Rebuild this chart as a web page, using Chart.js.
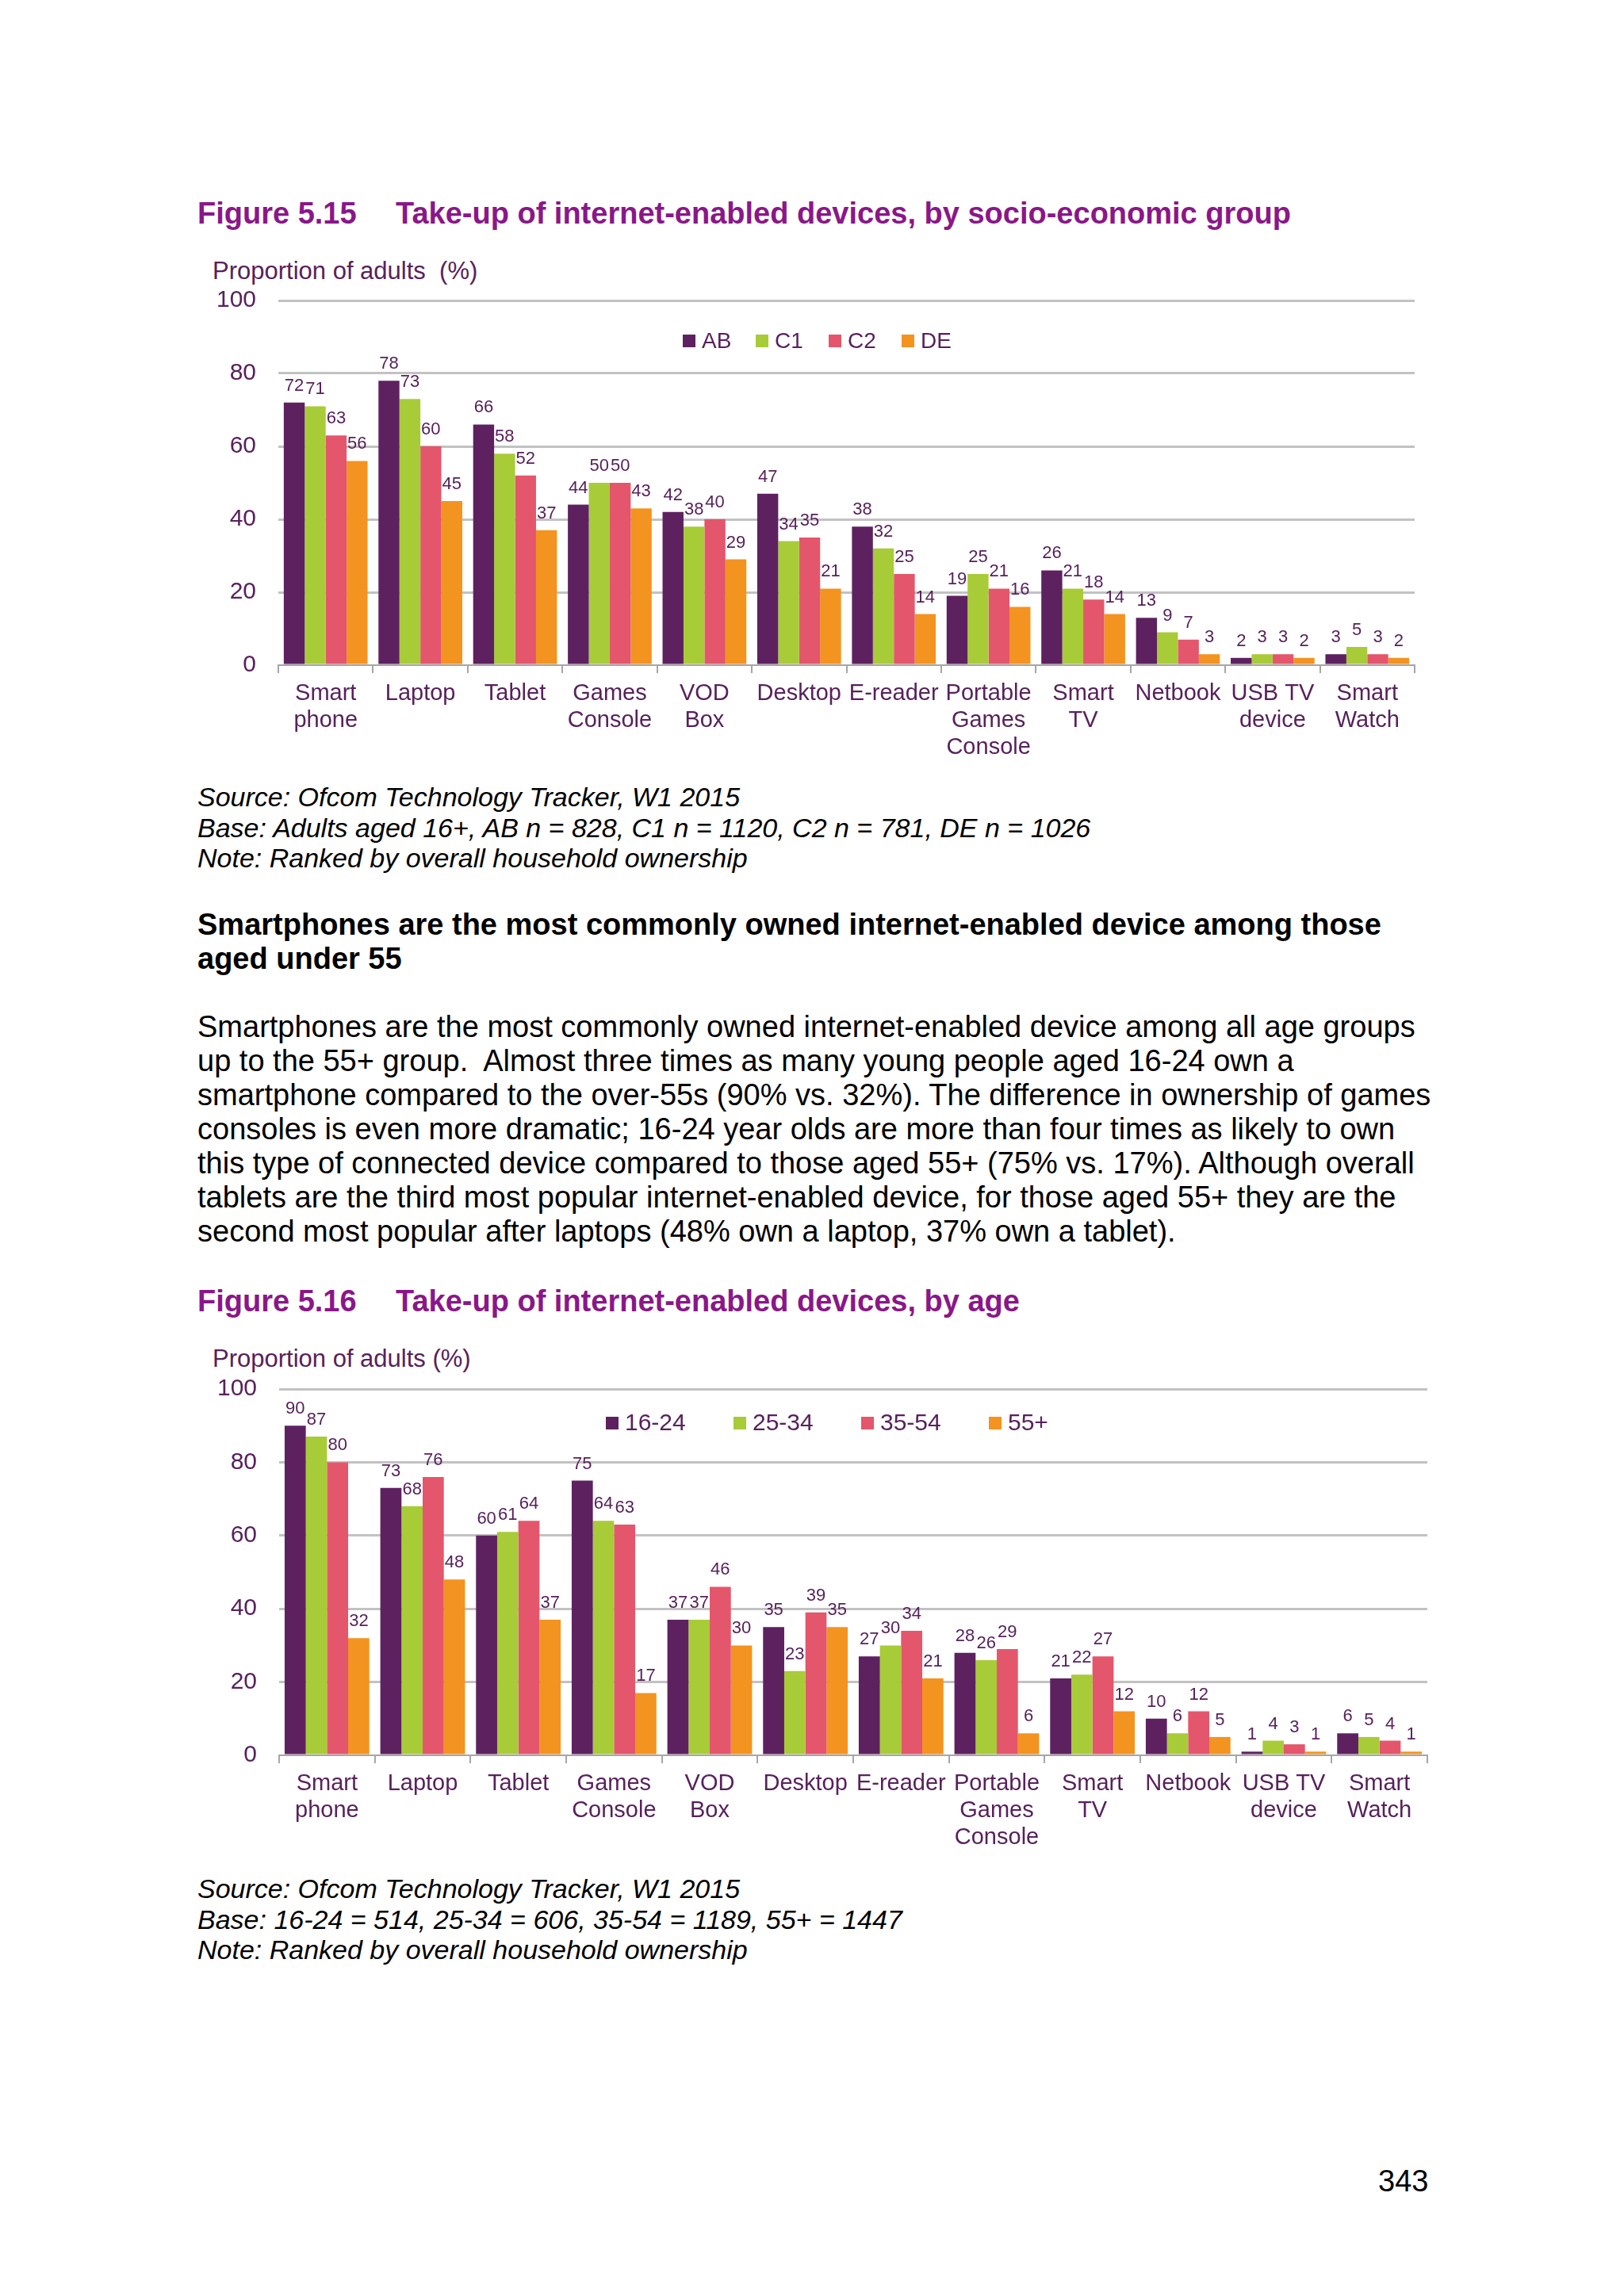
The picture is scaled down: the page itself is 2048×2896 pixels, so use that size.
<!DOCTYPE html>
<html>
<head>
<meta charset="utf-8">
<script src="https://cdn.jsdelivr.net/npm/chart.js@4.4.1/dist/chart.umd.min.js"></script>
<style>
  html, body { margin: 0; padding: 0; background: #fff; }
  body { width: 2048px; height: 2896px; position: relative; font-family: "Liberation Sans", Arial, sans-serif; color: #000; }
  .bloco { position: absolute; left: 249px; white-space: pre; }
  .titulo { font-weight: bold; font-size: 38px; line-height: 43px; color: #8a1789; }
  .titulo span { position: absolute; left: 250px; }
  .eixo { font-size: 31px; line-height: 36px; color: #58215c; left: 268px; }
  .fonte { font-style: italic; font-size: 34px; line-height: 38.5px; }
  .texto { font-size: 38px; line-height: 43px; }
  .negrito { font-weight: bold; }
  .grafico { position: absolute; left: 240px; }
  .pagina { position: absolute; left: 1738px; top: 2730px; font-size: 38px; line-height: 43px; }
</style>
</head>
<body>

<div class="bloco titulo" style="top:248px">Figure 5.15<span>Take-up of internet-enabled devices, by socio-economic group</span></div>
<div class="bloco eixo" style="top:324px">Proportion of adults  (%)</div>
<div class="grafico" style="top:349px"><canvas id="graficoSocio" width="1554" height="618"></canvas></div>

<div class="bloco fonte" style="top:986px">Source: Ofcom Technology Tracker, W1 2015
Base: Adults aged 16+, AB n = 828, C1 n = 1120, C2 n = 781, DE n = 1026
Note: Ranked by overall household ownership</div>

<div class="bloco texto negrito" style="top:1145px">Smartphones are the most commonly owned internet-enabled device among those
aged under 55</div>

<div class="bloco texto" style="top:1274px">Smartphones are the most commonly owned internet-enabled device among all age groups
up to the 55+ group.  Almost three times as many young people aged 16-24 own a
smartphone compared to the over-55s (90% vs. 32%). The difference in ownership of games
consoles is even more dramatic; 16-24 year olds are more than four times as likely to own
this type of connected device compared to those aged 55+ (75% vs. 17%). Although overall
tablets are the third most popular internet-enabled device, for those aged 55+ they are the
second most popular after laptops (48% own a laptop, 37% own a tablet).</div>

<div class="bloco titulo" style="top:1620px">Figure 5.16<span>Take-up of internet-enabled devices, by age</span></div>
<div class="bloco eixo" style="top:1696px">Proportion of adults (%)</div>
<div class="grafico" style="top:1722px"><canvas id="graficoIdade" width="1570" height="620"></canvas></div>

<div class="bloco fonte" style="top:2363px">Source: Ofcom Technology Tracker, W1 2015
Base: 16-24 = 514, 25-34 = 606, 35-54 = 1189, 55+ = 1447
Note: Ranked by overall household ownership</div>

<div class="pagina">343</div>

<script>
// -- Dados --
const categorias = [
  ['Smart', 'phone'], 'Laptop', 'Tablet', ['Games', 'Console'], ['VOD', 'Box'], 'Desktop',
  'E-reader', ['Portable', 'Games', 'Console'], ['Smart', 'TV'], 'Netbook', ['USB TV', 'device'], ['Smart', 'Watch']
];
const ticksY = [0, 20, 40, 60, 80, 100];

const gruposSocio = ['AB', 'C1', 'C2', 'DE'];
const valoresAB = [72, 78, 66, 44, 42, 47, 38, 19, 26, 13, 2, 3];
const valoresC1 = [71, 73, 58, 50, 38, 34, 32, 25, 21, 9, 3, 5];
const valoresC2 = [63, 60, 52, 50, 40, 35, 25, 21, 18, 7, 3, 3];
const valoresDE = [56, 45, 37, 43, 29, 21, 14, 16, 14, 3, 2, 2];

const faixasIdade = ['16-24', '25-34', '35-54', '55+'];
const valores1624 = [90, 73, 60, 75, 37, 35, 27, 28, 21, 10, 1, 6];
const valores2534 = [87, 68, 61, 64, 37, 23, 30, 26, 22, 6, 4, 5];
const valores3554 = [80, 76, 64, 63, 46, 39, 34, 29, 27, 12, 3, 4];
const valores55 = [32, 48, 37, 17, 30, 35, 21, 6, 12, 5, 1, 1];

// -- Estilo --
const cores = ['#5e2160', '#a8cb38', '#e4566b', '#f39320'];
const corTexto = '#58215c';
const fonte = '"Liberation Sans", Arial, sans-serif';

// rótulos de valor acima de cada barra
const rotulosBarras = {
  id: 'rotulosBarras',
  afterDatasetsDraw(chart) {
    const { ctx } = chart;
    ctx.save();
    ctx.font = `22px ${fonte}`;
    ctx.fillStyle = corTexto;
    ctx.textAlign = 'center';
    ctx.textBaseline = 'alphabetic';
    chart.data.datasets.forEach((ds, i) => {
      chart.getDatasetMeta(i).data.forEach((barra, j) => {
        ctx.fillText(ds.data[j], barra.x, barra.y - 15);
      });
    });
    ctx.restore();
  }
};

// legenda desenhada dentro da área do gráfico (como no original)
const legendaInterna = {
  id: 'legendaInterna',
  afterDraw(chart, args, opts) {
    const { ctx } = chart;
    ctx.save();
    ctx.font = `${opts.tamanho}px ${fonte}`;
    ctx.textBaseline = 'middle';
    ctx.textAlign = 'left';
    chart.data.datasets.forEach((ds, i) => {
      const x = opts.x + i * opts.passo;
      ctx.fillStyle = ds.backgroundColor;
      ctx.fillRect(x, opts.y - 8, 16, 16);
      ctx.fillStyle = corTexto;
      ctx.fillText(ds.label, x + 24, opts.y + 1);
    });
    ctx.restore();
  }
};

function criarGrafico(id, nomes, series, larguraEixoY, legenda) {
  const ctx = document.getElementById(id).getContext('2d');
  return new Chart(ctx, {
    type: 'bar',
    data: {
      labels: categorias,
      datasets: series.map((valores, i) => ({
        label: nomes[i],
        data: valores,
        backgroundColor: cores[i],
        borderWidth: 0,
        categoryPercentage: 0.885,
        barPercentage: 1.0
      }))
    },
    plugins: [rotulosBarras, legendaInterna],
    options: {
      responsive: false,
      animation: false,
      devicePixelRatio: 1,
      layout: { padding: { top: 30, right: 10, bottom: 3, left: 0 } },
      plugins: {
        legend: { display: false },
        tooltip: { enabled: false },
        legendaInterna: legenda
      },
      scales: {
        x: {
          grid: {
            drawOnChartArea: false,
            drawTicks: true,
            tickLength: 10,
            color: '#a6a6a6',
            lineWidth: 2,
            offset: true
          },
          border: { display: true, color: '#a6a6a6', width: 2 },
          ticks: {
            autoSkip: false,
            maxRotation: 0,
            padding: 9,
            color: corTexto,
            font: { family: fonte, size: 29, lineHeight: 1.17 }
          },
          afterFit: eixo => { eixo.height = 125; }
        },
        y: {
          min: 0,
          max: 100,
          afterBuildTicks: eixo => { eixo.ticks = ticksY.map(v => ({ value: v })); },
          grid: {
            drawTicks: false,
            lineWidth: 3,
            color: c => c.tick && c.tick.value === 0 ? 'rgba(0,0,0,0)' : '#c2c2c2'
          },
          border: { display: false },
          ticks: {
            padding: 28,
            color: corTexto,
            font: { family: fonte, size: 30 }
          },
          // largura fixa e sem folga vertical extra (o padding dos ticks empurrava a área)
          afterFit: eixo => {
            eixo.width = larguraEixoY;
            eixo.paddingTop = 0;
            eixo.paddingBottom = 0;
          }
        }
      }
    }
  });
}

// -- Figura 5.15 --
criarGrafico('graficoSocio', gruposSocio, [valoresAB, valoresC1, valoresC2, valoresDE], 111,
  { x: 621, y: 81, passo: 92, tamanho: 28 });

// -- Figura 5.16 --
criarGrafico('graficoIdade', faixasIdade, [valores1624, valores2534, valores3554, valores55], 112,
  { x: 524, y: 73, passo: 161, tamanho: 30 });
</script>
</body>
</html>
